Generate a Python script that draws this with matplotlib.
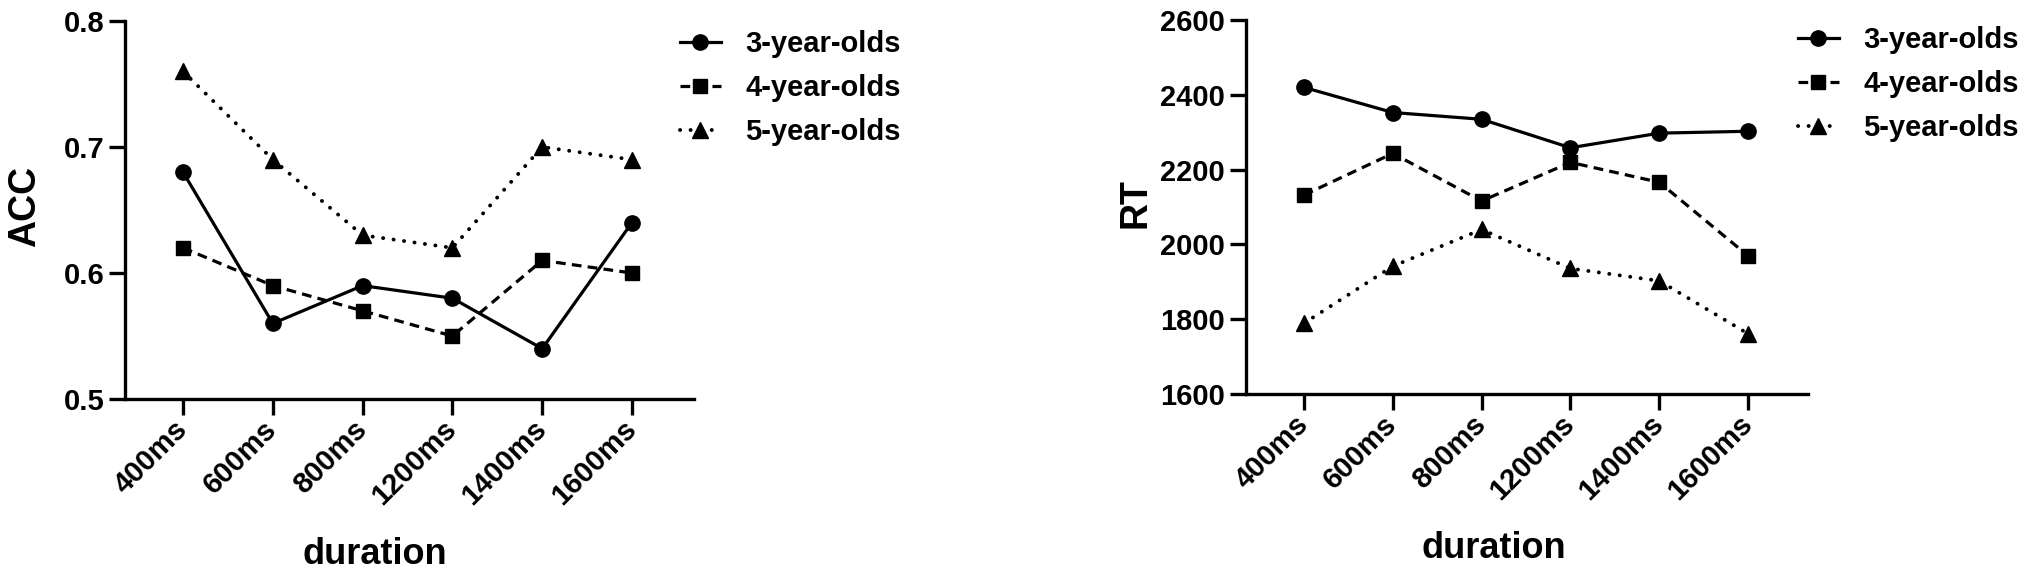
import matplotlib
matplotlib.use("Agg")
import matplotlib.pyplot as plt

plt.rcParams["font.family"] = ["Liberation Sans", "DejaVu Sans"]
plt.rcParams["font.weight"] = "bold"
plt.rcParams["lines.scale_dashes"] = False

durations = ["400ms", "600ms", "800ms", "1200ms", "1400ms", "1600ms"]
groups = ["3-year-olds", "4-year-olds", "5-year-olds"]

acc_3 = [0.68, 0.56, 0.59, 0.58, 0.54, 0.64]
acc_4 = [0.62, 0.59, 0.57, 0.55, 0.61, 0.60]
acc_5 = [0.76, 0.69, 0.63, 0.62, 0.70, 0.69]

rt_3 = [2419, 2352, 2334, 2258, 2297, 2302]
rt_4 = [2132, 2243, 2116, 2219, 2166, 1970]
rt_5 = [1790, 1942, 2040, 1936, 1903, 1762]

styles = [
    dict(linestyle="-", marker="o", markersize=11, linewidth=2.3),
    dict(linestyle=(0, (7, 4.5)), marker="s", markersize=10.5, linewidth=2.3),
    dict(linestyle=(0, (0.1, 7.5)), marker="^", markersize=11, linewidth=2.8,
         dash_capstyle="round"),
]

fig = plt.figure(figsize=(20.32, 5.75), dpi=100)

ax1 = fig.add_axes([0.0615, 0.306, 0.280, 0.6575])
ax2 = fig.add_axes([0.6132, 0.314, 0.2766, 0.652])

x = list(range(len(durations)))


def style_axis(ax, ylabel, ylab_x):
    for side in ["top", "right"]:
        ax.spines[side].set_visible(False)
    for side in ["left", "bottom"]:
        ax.spines[side].set_linewidth(2.4)
    ax.tick_params(axis="both", length=11.5, width=2.4, labelsize=21)
    ax.tick_params(axis="y", pad=3.5)
    ax.tick_params(axis="x", pad=7)
    ax.set_xticks(x)
    ax.set_xticklabels(durations, rotation=45, ha="right", va="center",
                       rotation_mode="anchor", fontweight="bold")
    for lab in ax.get_yticklabels():
        lab.set_fontweight("bold")
    ax.set_xlabel("duration", fontsize=26, fontweight="bold")
    ax.xaxis.set_label_coords(0.44, -0.41)
    ax.xaxis.label.set_va("center")
    ax.set_ylabel(ylabel, fontsize=27, fontweight="bold")
    ax.yaxis.set_label_coords(ylab_x, 0.51)
    ax.yaxis.label.set_va("center")


for vals, lab, st in zip([acc_3, acc_4, acc_5], groups, styles):
    ax1.plot(x, vals, color="black", label=lab, **st)
ax1.set_xlim(-0.647, 5.69)
ax1.set_ylim(0.5, 0.8)
ax1.set_yticks([0.5, 0.6, 0.7, 0.8])
ax1.set_yticklabels(["0.5", "0.6", "0.7", "0.8"])
style_axis(ax1, "ACC", -0.176)

for vals, lab, st in zip([rt_3, rt_4, rt_5], groups, styles):
    ax2.plot(x, vals, color="black", label=lab, **st)
ax2.set_xlim(-0.653, 5.676)
ax2.set_ylim(1600, 2600)
ax2.set_yticks([1600, 1800, 2000, 2200, 2400, 2600])
style_axis(ax2, "RT", -0.197)

leg_kw = dict(loc="upper left", frameon=False, borderpad=0,
              borderaxespad=0, handlelength=1.4, handletextpad=0.85,
              labelspacing=0.55, bbox_transform=fig.transFigure,
              prop={"weight": "bold", "size": 21})
ax1.legend(bbox_to_anchor=(0.3346, 0.948), **leg_kw)
ax2.legend(bbox_to_anchor=(0.8848, 0.955), **leg_kw)

fig.savefig("out.png", dpi=100)
